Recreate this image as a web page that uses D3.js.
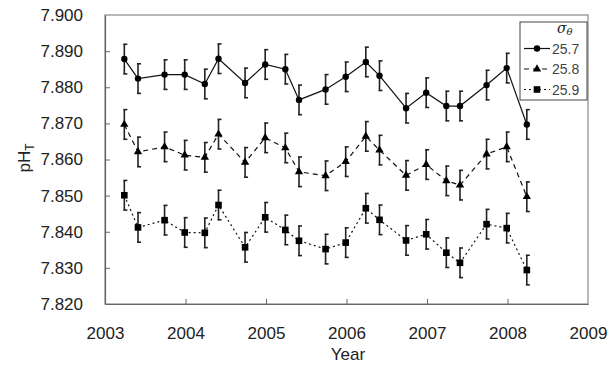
<!DOCTYPE html>
<html>
<head>
<meta charset="utf-8">
<script src="https://cdn.jsdelivr.net/npm/d3@7"></script>
<style>
  body { margin: 0; background: #fff; }
  svg { display: block; font-family: "Liberation Sans", Arial, sans-serif; }
  .tick text { font-size: 17px; fill: #222; }
</style>
</head>
<body>
<div id="chart"></div>
<script>
// sampling times (decimal year) and pH_T on three isopycnals
const times = [2003.24, 2003.41, 2003.74, 2003.99, 2004.24, 2004.41, 2004.74, 2004.99,
               2005.24, 2005.41, 2005.74, 2005.99, 2006.24, 2006.41, 2006.74, 2006.99,
               2007.24, 2007.41, 2007.74, 2007.99, 2008.24];
const ph257 = [7.8878, 7.8824, 7.8835, 7.8835, 7.8809, 7.8879, 7.8812, 7.8863, 7.8850, 7.8765, 7.8794,
               7.8829, 7.8870, 7.8832, 7.8742, 7.8785, 7.8748, 7.8748, 7.8806, 7.8853, 7.8697];
const ph258 = [7.8697, 7.8621, 7.8635, 7.8612, 7.8606, 7.8670, 7.8592, 7.8660, 7.8632, 7.8566, 7.8555,
               7.8594, 7.8664, 7.8626, 7.8556, 7.8586, 7.8541, 7.8529, 7.8615, 7.8635, 7.8497];
const ph259 = [7.8501, 7.8412, 7.8432, 7.8398, 7.8397, 7.8474, 7.8357, 7.8440, 7.8405, 7.8375, 7.8352,
               7.8370, 7.8465, 7.8433, 7.8376, 7.8393, 7.8342, 7.8314, 7.8421, 7.8410, 7.8294];
const phErr = [0.0041, 0.0041, 0.0041, 0.0041, 0.0041, 0.0041, 0.0041, 0.0041, 0.0041, 0.0041, 0.0041,
               0.0041, 0.0041, 0.0041, 0.0041, 0.0041, 0.0041, 0.0041, 0.0041, 0.0041, 0.0041];
const seriesNames = ['25.7', '25.8', '25.9'];
const xTicks = [2003, 2004, 2005, 2006, 2007, 2008, 2009];
const yTicks = [7.820, 7.830, 7.840, 7.850, 7.860, 7.870, 7.880, 7.890, 7.900];

const width = 614, height = 369;
const margin = {top: 15, right: 26, bottom: 65, left: 105};

const svg = d3.select('#chart').append('svg').attr('width', width).attr('height', height);

const x = d3.scaleLinear().domain([2003, 2009]).range([margin.left, width - margin.right]);
const y = d3.scaleLinear().domain([7.820, 7.900]).range([height - margin.bottom, margin.top]);

// plot frame
svg.append('rect')
   .attr('x', x(2003)).attr('y', y(7.900))
   .attr('width', x(2009) - x(2003)).attr('height', y(7.820) - y(7.900))
   .attr('fill', 'none').attr('stroke', '#8a8a8a').attr('stroke-width', 1.2);

// axes, ticks pointing inwards
const xAxis = svg.append('g')
   .attr('transform', 'translate(0,' + y(7.820) + ')')
   .call(d3.axisBottom(x).tickValues(xTicks).tickFormat(d3.format('d')).tickSizeInner(-5).tickSizeOuter(0).tickPadding(23));
const yAxis = svg.append('g')
   .attr('transform', 'translate(' + x(2003) + ',0)')
   .call(d3.axisLeft(y).tickValues(yTicks).tickFormat(d3.format('.3f')).tickSizeInner(-5).tickSizeOuter(0).tickPadding(22));
[xAxis, yAxis].forEach(function(g) {
  g.select('.domain').attr('stroke', '#666').attr('stroke-width', 1.2);
  g.selectAll('.tick line').attr('stroke', '#666');
});
xAxis.selectAll('.tick').filter(function(d) { return d === 2003 || d === 2009; }).select('line').remove();
yAxis.selectAll('.tick').filter(function(d) { return d === 7.82 || d === 7.9; }).select('line').remove();

// axis titles
svg.append('text').attr('x', 348).attr('y', 360).attr('text-anchor', 'middle')
   .style('font-size', '17px').attr('fill', '#222').text('Year');
const yTitle = svg.append('text').attr('transform', 'translate(30,158) rotate(-90)')
   .attr('text-anchor', 'middle').style('font-size', '17px').attr('fill', '#222');
yTitle.append('tspan').text('pH');
yTitle.append('tspan').attr('dy', 4).style('font-size', '12px').text('T');

const series = [
  {name: seriesNames[0], values: ph257, dash: null, marker: 'circle'},
  {name: seriesNames[1], values: ph258, dash: '5,4', marker: 'triangle'},
  {name: seriesNames[2], values: ph259, dash: '2,3', marker: 'square'}
];

const line = d3.line().x(function(d) { return x(d.t); }).y(function(d) { return y(d.v); });

function drawMarker(g, type) {
  if (type === 'circle') {
    g.append('circle').attr('r', 3.2).attr('fill', '#000');
  } else if (type === 'triangle') {
    g.append('path').attr('d', d3.symbol().type(d3.symbolTriangle).size(30)()).attr('fill', '#000');
  } else {
    g.append('rect').attr('x', -3.3).attr('y', -3.3).attr('width', 6.6).attr('height', 6.6).attr('fill', '#000');
  }
}

series.forEach(function(s) {
  const pts = times.map(function(t, i) { return {t: t, v: s.values[i], e: phErr[i]}; });

  svg.append('path').datum(pts).attr('d', line)
     .attr('fill', 'none').attr('stroke', '#111').attr('stroke-width', 1.2)
     .attr('stroke-dasharray', s.dash);

  const bars = svg.append('g').attr('stroke', '#222').attr('stroke-width', 1.6).attr('fill', 'none');
  pts.forEach(function(p) {
    const cx = x(p.t), y0 = y(p.v - p.e), y1 = y(p.v + p.e);
    bars.append('line').attr('x1', cx).attr('x2', cx).attr('y1', y0).attr('y2', y1);
    bars.append('line').attr('x1', cx - 1).attr('x2', cx + 3).attr('y1', y0).attr('y2', y0);
    bars.append('line').attr('x1', cx - 1).attr('x2', cx + 3).attr('y1', y1).attr('y2', y1);
  });

  pts.forEach(function(p) {
    drawMarker(svg.append('g').attr('transform', 'translate(' + x(p.t) + ',' + y(p.v) + ')'), s.marker);
  });
});

// legend
const legend = svg.append('g').attr('transform', 'translate(520,22)');
legend.append('rect').attr('width', 67).attr('height', 78)
      .attr('fill', '#fff').attr('stroke', '#444').attr('stroke-width', 1);
const title = legend.append('text').attr('x', 37).attr('y', 11)
      .style('font-family', '"DejaVu Serif", serif').style('font-style', 'italic')
      .style('font-size', '14px').attr('fill', '#222');
title.append('tspan').text('σ');
title.append('tspan').attr('dy', 2).style('font-size', '10px').text('θ');

series.forEach(function(s, i) {
  const row = legend.append('g').attr('transform', 'translate(0,' + (26.5 + i * 20.5) + ')');
  row.append('line').attr('x1', 4).attr('x2', 30).attr('y1', 0).attr('y2', 0)
     .attr('stroke', '#111').attr('stroke-width', 1.2).attr('stroke-dasharray', s.dash);
  drawMarker(row.append('g').attr('transform', 'translate(17,0)'), s.marker);
  row.append('text').attr('x', 32).attr('y', 5).style('font-size', '14px').attr('fill', '#444').text(s.name);
});
</script>
</body>
</html>
